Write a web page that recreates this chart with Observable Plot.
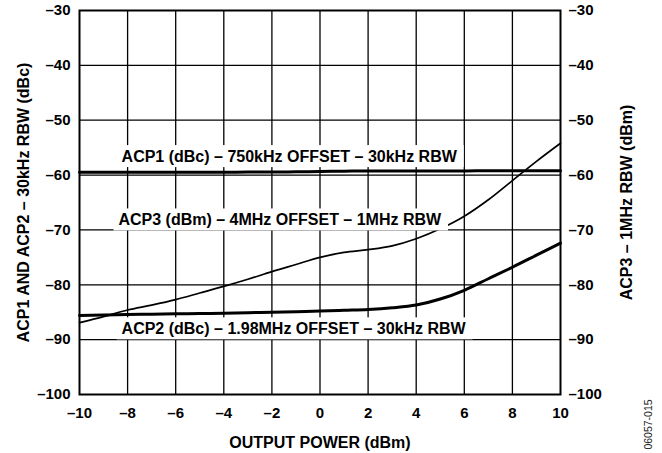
<!DOCTYPE html>
<html>
<head>
<meta charset="utf-8">
<script src="https://cdn.jsdelivr.net/npm/d3@7"></script>
<script src="https://cdn.jsdelivr.net/npm/@observablehq/plot@0.6"></script>
<style>
  html, body { margin: 0; padding: 0; background: #fff; }
  svg { display: block; }
</style>
</head>
<body>
<div id="chart"></div>
<script>
// ---- data ----
const powerDbm = [-10,-9,-8,-7,-6,-5,-4,-3,-2,-1,0,1,2,3,4,5,6,7,8,9,10];
const acp1Dbc = [-59.5,-59.5,-59.5,-59.5,-59.5,-59.5,-59.5,-59.45,-59.45,-59.4,-59.35,-59.3,-59.25,-59.25,-59.25,-59.25,-59.25,-59.2,-59.2,-59.2,-59.2];
const acp2Dbc = [-85.6,-85.5,-85.4,-85.35,-85.3,-85.25,-85.2,-85.1,-85.0,-84.9,-84.8,-84.65,-84.5,-84.2,-83.7,-82.6,-81.0,-78.9,-76.8,-74.6,-72.4];
const acp3Dbm = [-86.9,-85.8,-84.6,-83.7,-82.7,-81.5,-80.3,-79.0,-77.6,-76.3,-75.0,-74.1,-73.6,-72.9,-71.6,-69.8,-67.5,-64.5,-61.0,-57.5,-54.2];

const xTicks = [-10,-8,-6,-4,-2,0,2,4,6,8,10];
const xTickLabels = ["–10","–8","–6","–4","–2","0","2","4","6","8","10"];
const yTicks = [-100,-90,-80,-70,-60,-50,-40,-30];
const yTickLabels = ["–100","–90","–80","–70","–60","–50","–40","–30"];

const curveLabels = [
  "ACP1 (dBc) – 750kHz OFFSET – 30kHz RBW",
  "ACP3 (dBm) – 4MHz OFFSET – 1MHz RBW",
  "ACP2 (dBc) – 1.98MHz OFFSET – 30kHz RBW"
];
const curveLabelX = [-8.25, -8.38, -8.25];
const curveLabelY = [-56.7, -68.25, -88.1];

const xTitle = "OUTPUT POWER (dBm)";
const yLeftTitle = "ACP1 AND ACP2 – 30kHz RBW (dBc)";
const yRightTitle = "ACP3 – 1MHz RBW (dBm)";
const figureCode = "06057-015";

// ---- build tables ----
const rows = (ys) => powerDbm.map((p, i) => ({x: p, y: ys[i]}));
const acp1 = rows(acp1Dbc), acp2 = rows(acp2Dbc), acp3 = rows(acp3Dbm);
const labels = curveLabels.map((t, i) => ({t, x: curveLabelX[i], y: curveLabelY[i]}));

const font = "'Liberation Sans', Arial, Helvetica, sans-serif";

const chart = Plot.plot({
  width: 662,
  height: 453,
  marginLeft: 79,
  marginRight: 102,
  marginTop: 10,
  marginBottom: 59,
  style: {fontFamily: font, fontSize: "15px", fontWeight: "bold", color: "#000", background: "#fff"},
  x: {domain: [-10, 10]},
  y: {domain: [-100, -30]},
  marks: [
    Plot.ruleX(xTicks.slice(1, -1), {stroke: "#000", strokeWidth: 1.3, strokeOpacity: 1}),
    Plot.ruleY(yTicks.slice(1, -1), {stroke: "#000", strokeWidth: 1.3, strokeOpacity: 1}),
    Plot.line(acp1, {x: "x", y: "y", stroke: "#000", strokeWidth: 3, curve: "monotone-x"}),
    Plot.line(acp2, {x: "x", y: "y", stroke: "#000", strokeWidth: 3, curve: "monotone-x"}),
    Plot.line(acp3, {x: "x", y: "y", stroke: "#000", strokeWidth: 1.7, curve: "monotone-x"}),
    Plot.text(labels, {x: "x", y: "y", text: "t", textAnchor: "start", lineAnchor: "middle",
      fill: "#000", fontSize: 16, fontWeight: "bold", ariaDescription: "curve-labels"}),
    Plot.frame({stroke: "#000", strokeWidth: 2}),
    Plot.axisX({ticks: xTicks, tickSize: 0, tickPadding: 13, tickFormat: (d, i) => xTickLabels[i],
      label: null, fontSize: 15, fontWeight: "bold"}),
    Plot.axisY({ticks: yTicks, anchor: "left", tickSize: 0, tickPadding: 9, tickFormat: (d, i) => yTickLabels[i],
      label: null, fontSize: 15, fontWeight: "bold"}),
    Plot.axisY({ticks: yTicks, anchor: "right", tickSize: 0, tickPadding: 8, tickFormat: (d, i) => yTickLabels[i],
      label: null, fontSize: 15, fontWeight: "bold"}),
    Plot.text([xTitle], {text: d => d, frameAnchor: "bottom", textAnchor: "middle", lineAnchor: "middle",
      dy: 48, fontSize: 16, fontWeight: "bold", fill: "#000"}),
    Plot.text([yLeftTitle], {text: d => d, frameAnchor: "left", textAnchor: "middle", lineAnchor: "middle",
      rotate: -90, dx: -56, fontSize: 16, fontWeight: "bold", fill: "#000"}),
    Plot.text([yRightTitle], {text: d => d, frameAnchor: "right", textAnchor: "middle", lineAnchor: "middle",
      rotate: -90, dx: 66, fontSize: 16, fontWeight: "bold", fill: "#000"}),
    Plot.text([figureCode], {text: d => d, frameAnchor: "bottom-right", textAnchor: "middle", lineAnchor: "middle",
      rotate: -90, dx: 88, dy: 30, fontSize: 10.5, fontWeight: "normal", fill: "#222"})
  ]
});

document.getElementById("chart").append(chart);

// white boxes behind the curve labels (interrupt grid lines like the original)
const svgEl = chart.tagName.toLowerCase() === "svg" ? chart : chart.querySelector("svg");
const g = svgEl.querySelector('g[aria-description="curve-labels"]');
if (g) {
  const sr = svgEl.getBoundingClientRect();
  const boxes = document.createElementNS("http://www.w3.org/2000/svg", "g");
  g.querySelectorAll("text").forEach(t => {
    const r = t.getBoundingClientRect();
    const rect = document.createElementNS("http://www.w3.org/2000/svg", "rect");
    rect.setAttribute("x", r.left - sr.left - 5);
    rect.setAttribute("y", r.top - sr.top - 3);
    rect.setAttribute("width", r.width + 11);
    rect.setAttribute("height", r.height + 5);
    rect.setAttribute("fill", "#fff");
    boxes.appendChild(rect);
  });
  g.parentNode.insertBefore(boxes, g);
}
</script>
</body>
</html>
